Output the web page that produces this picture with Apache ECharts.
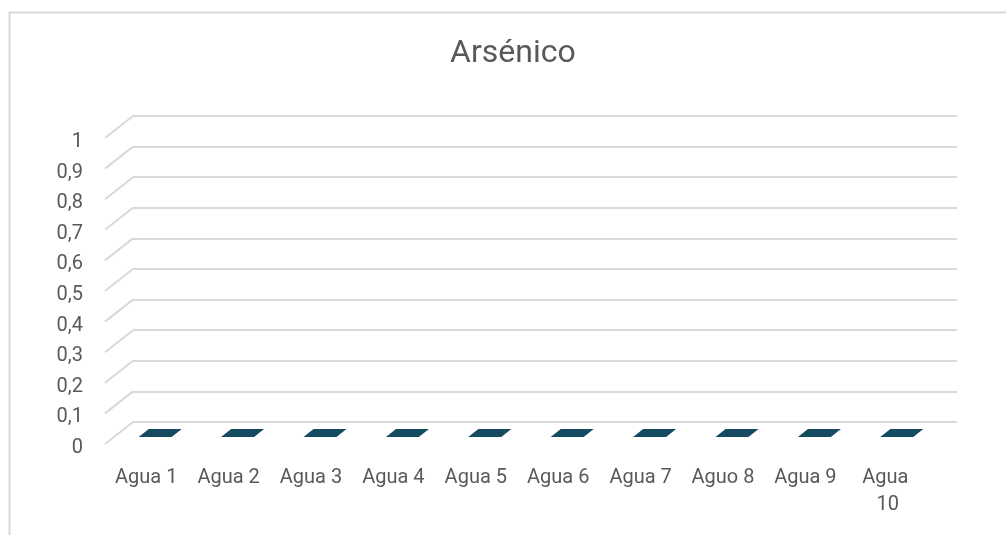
<!DOCTYPE html>
<html>
<head>
<meta charset="utf-8">
<script src="https://cdn.jsdelivr.net/npm/echarts@6/dist/echarts.min.js"></script>
<style>
  html, body { margin: 0; padding: 0; background: #fff; }
  #chart { width: 1006px; height: 535px; }
</style>
</head>
<body>
<div id="chart"></div>
<script>
// data
var categories = ['Agua 1', 'Agua 2', 'Agua 3', 'Agua 4', 'Agua 5', 'Agua 6', 'Agua 7', 'Aguo 8', 'Agua 9', 'Agua 10'];
var arsenico = [0, 0, 0, 0, 0, 0, 0, 0, 0, 0];
var yTicks = [0, 0.1, 0.2, 0.3, 0.4, 0.5, 0.6, 0.7, 0.8, 0.9, 1];

// 3d look: the floor runs from the back wall to the front plane
var DEPTH_X = -28;
var DEPTH_Y = 22;
var BOX_BACK = 0.32; // bar starts this far into the depth
var BOX_FRONT = 0.68;

var textColor = '#595959';
var gridColor = '#d9d9d9';
var barColor = '#144b60';

var chart = echarts.init(document.getElementById('chart'));

function renderWall(params, api) {
  var v = api.value(0);
  var p = api.coord([0, v]);
  var x = params.coordSys.x;
  return {
    type: 'line',
    shape: { x1: x, y1: p[1], x2: x + DEPTH_X, y2: p[1] + DEPTH_Y },
    style: { stroke: gridColor, lineWidth: 2 },
    silent: true
  };
}

function renderBar(params, api) {
  var idx = api.value(0);
  var base = api.coord([idx, 0]);
  var top = api.coord([idx, api.value(1)]);
  var w = api.size([1, 0])[0] * 0.4;
  var bx = DEPTH_X * BOX_BACK, by = DEPTH_Y * BOX_BACK;
  var fx = DEPTH_X * BOX_FRONT, fy = DEPTH_Y * BOX_FRONT;
  var l = base[0] - w / 2, r = base[0] + w / 2;
  var children = [];
  // front + side face, only when the bar has height
  if (base[1] - top[1] > 0.5) {
    children.push({
      type: 'polygon',
      shape: { points: [[l + fx, base[1] + fy], [r + fx, base[1] + fy], [r + fx, top[1] + fy], [l + fx, top[1] + fy]] },
      style: { fill: barColor }
    });
    children.push({
      type: 'polygon',
      shape: { points: [[r + fx, base[1] + fy], [r + bx, base[1] + by], [r + bx, top[1] + by], [r + fx, top[1] + fy]] },
      style: { fill: '#0f3a4a' }
    });
  }
  // top face
  children.push({
    type: 'polygon',
    shape: { points: [[l + fx, top[1] + fy], [r + fx, top[1] + fy], [r + bx, top[1] + by], [l + bx, top[1] + by]] },
    style: { fill: barColor }
  });
  return { type: 'group', children: children };
}

var options = {
  animation: false,
  title: {
    text: 'Arsénico',
    left: 450,
    top: 38,
    padding: 0,
    textStyle: { color: textColor, fontFamily: 'Roboto', fontSize: 32, fontWeight: 'normal' }
  },
  graphic: [{
    type: 'rect',
    left: 7, top: 10,
    shape: { width: 1100, height: 600 },
    style: { fill: 'none', stroke: gridColor, lineWidth: 2 },
    silent: true
  }],
  grid: [
    { left: 133, right: 49, top: 116, bottom: 113 },
    // front plane, only carries the labels
    { left: 105, right: 77, top: 142, bottom: 87 }
  ],
  xAxis: [
    { type: 'category', gridIndex: 0, data: categories, show: false },
    {
      type: 'category', gridIndex: 1, data: categories,
      axisLine: { show: false },
      axisTick: { show: false },
      axisLabel: {
        color: textColor, fontFamily: 'Roboto', fontSize: 20,
        margin: 16, lineHeight: 27, interval: 0,
        width: 66, overflow: 'break'
      }
    }
  ],
  yAxis: [
    {
      type: 'value', gridIndex: 0, min: 0, max: 1, interval: 0.1,
      axisLine: { show: false },
      axisTick: { show: false },
      axisLabel: { show: false },
      splitLine: { lineStyle: { color: gridColor, width: 2 } }
    },
    {
      type: 'value', gridIndex: 1, min: 0, max: 1, interval: 0.1,
      axisLine: { show: false },
      axisTick: { show: false },
      splitLine: { show: false },
      axisLabel: {
        color: textColor, fontFamily: 'Roboto', fontSize: 20, margin: 22,
        formatter: function (v) { return String(Math.round(v * 10) / 10).replace('.', ','); }
      }
    }
  ],
  series: [
    {
      name: 'wall',
      type: 'custom',
      xAxisIndex: 0, yAxisIndex: 0,
      renderItem: renderWall,
      data: yTicks.map(function (v) { return [v]; }),
      encode: { y: 0 },
      silent: true,
      z: 1
    },
    {
      name: 'Arsénico',
      type: 'custom',
      xAxisIndex: 0, yAxisIndex: 0,
      renderItem: renderBar,
      data: arsenico.map(function (v, i) { return [i, v]; }),
      encode: { x: 0, y: 1 },
      z: 3
    }
  ]
};

chart.setOption(options);
</script>
</body>
</html>
